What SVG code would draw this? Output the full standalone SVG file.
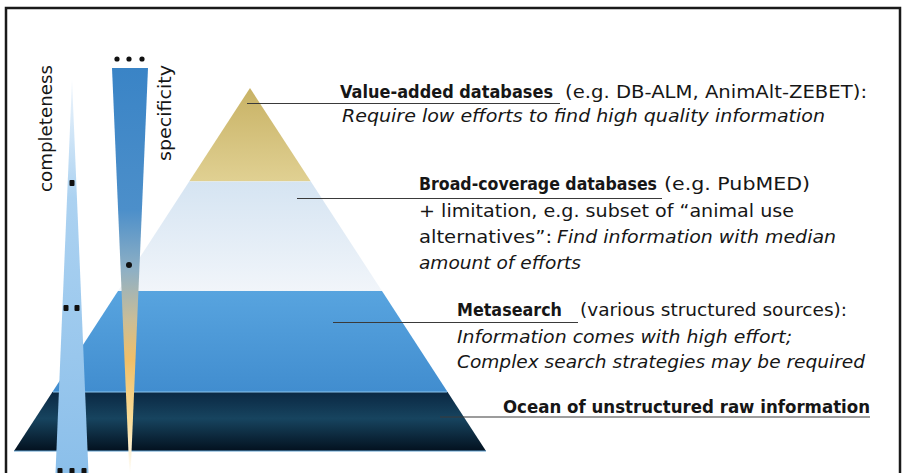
<svg xmlns="http://www.w3.org/2000/svg" width="907" height="473" viewBox="0 0 907 473">
<style>
  .t{font-family:"DejaVu Sans","Liberation Sans",sans-serif;font-size:17px;fill:#161616}
  .b{font-weight:bold;font-size:17px}
  .i{font-style:italic}
  .r{font-size:17px}
  .lead{stroke:#3a3a3a;stroke-width:1.2;fill:none}
  .dot{fill:#111}
</style>
<defs>
  <linearGradient id="gYel" x1="0" y1="88" x2="0" y2="181" gradientUnits="userSpaceOnUse">
    <stop offset="0" stop-color="#c8b265"/><stop offset="1" stop-color="#e0d092"/>
  </linearGradient>
  <linearGradient id="gLight" x1="0" y1="181" x2="0" y2="291" gradientUnits="userSpaceOnUse">
    <stop offset="0" stop-color="#d5e4f2"/><stop offset="1" stop-color="#f1f5fa"/>
  </linearGradient>
  <linearGradient id="gBlue" x1="0" y1="291" x2="0" y2="392" gradientUnits="userSpaceOnUse">
    <stop offset="0" stop-color="#58a4df"/><stop offset="1" stop-color="#418dcf"/>
  </linearGradient>
  <linearGradient id="gDark" x1="0" y1="392" x2="0" y2="451" gradientUnits="userSpaceOnUse">
    <stop offset="0" stop-color="#0a2843"/><stop offset="0.45" stop-color="#17445f"/><stop offset="1" stop-color="#03111f"/>
  </linearGradient>
  <linearGradient id="gComp" x1="0" y1="80" x2="0" y2="473" gradientUnits="userSpaceOnUse">
    <stop offset="0" stop-color="#eef5fc"/><stop offset="0.3" stop-color="#acd2f1"/><stop offset="1" stop-color="#8bbfea"/>
  </linearGradient>
  <linearGradient id="gSpec" x1="0" y1="68" x2="0" y2="473" gradientUnits="userSpaceOnUse">
    <stop offset="0" stop-color="#3a84c6"/><stop offset="0.35" stop-color="#4c8fca"/><stop offset="0.5" stop-color="#8fb0c4"/><stop offset="0.62" stop-color="#c9bd98"/><stop offset="0.72" stop-color="#f0bf68"/><stop offset="0.87" stop-color="#f8dc98"/><stop offset="1" stop-color="#ffffff"/>
  </linearGradient>
</defs>
<rect x="0" y="0" width="907" height="473" fill="#ffffff"/>
<rect x="6" y="8" width="894" height="480" fill="none" stroke="#1a1a1a" stroke-width="2.5"/>

<g id="layer-ocean">
  <polygon points="52.4,392 447.6,392 486,451 14,451" fill="url(#gDark)"/>
  <line x1="14" y1="451" x2="486" y2="451" stroke="#5a9ccc" stroke-width="1"/>
  <text class="t b" x="503" y="413" textLength="367" lengthAdjust="spacingAndGlyphs">Ocean of unstructured raw information</text>
</g>
<g id="layer-meta">
  <polygon points="118,291 382,291 447.6,392 52.4,392" fill="url(#gBlue)"/>
  <line x1="53" y1="392" x2="447" y2="392" stroke="#8cc4ec" stroke-width="1"/>
  <text class="t b" x="457" y="316" textLength="105" lengthAdjust="spacingAndGlyphs">Metasearch</text>
  <text class="t r" x="580" y="316" textLength="267" lengthAdjust="spacingAndGlyphs">(various structured sources):</text>
  <text class="t i r" x="457" y="343" textLength="335" lengthAdjust="spacingAndGlyphs">Information comes with high effort;</text>
  <text class="t i r" x="457" y="368" textLength="408" lengthAdjust="spacingAndGlyphs">Complex search strategies may be required</text>
</g>
<g id="layer-broad">
  <polygon points="189.5,181 310.5,181 382,291 118,291" fill="url(#gLight)"/>
  <line x1="190" y1="181" x2="310" y2="181" stroke="#f4f0dc" stroke-width="1"/>
  <text class="t b" x="419" y="190" textLength="238" lengthAdjust="spacingAndGlyphs">Broad-coverage databases</text>
  <text class="t r" x="664" y="190" textLength="146" lengthAdjust="spacingAndGlyphs">(e.g. PubMED)</text>
  <text class="t r" x="419" y="217" textLength="375" lengthAdjust="spacingAndGlyphs">+ limitation, e.g. subset of “animal use</text>
  <text class="t r" x="419" y="243" textLength="133" lengthAdjust="spacingAndGlyphs">alternatives”:</text>
  <text class="t i r" x="557" y="243" textLength="279" lengthAdjust="spacingAndGlyphs">Find information with median</text>
  <text class="t i r" x="419" y="269" textLength="162" lengthAdjust="spacingAndGlyphs">amount of efforts</text>
</g>
<g id="layer-value">
  <polygon points="250,88 310.5,181 189.5,181" fill="url(#gYel)"/>
  <text class="t b" x="340" y="98" textLength="213" lengthAdjust="spacingAndGlyphs">Value-added databases</text>
  <text class="t r" x="565" y="98" textLength="302" lengthAdjust="spacingAndGlyphs">(e.g. DB-ALM, AnimAlt-ZEBET):</text>
  <text class="t i r" x="342" y="122" textLength="483" lengthAdjust="spacingAndGlyphs">Require low efforts to find high quality information</text>
</g>

<g id="connectors">
  <line class="lead" x1="247" y1="103.5" x2="560" y2="103.5"/>
  <line class="lead" x1="297" y1="198.5" x2="662" y2="198.5"/>
  <line class="lead" x1="333" y1="322.5" x2="578" y2="322.5"/>
  <line class="lead" x1="440" y1="417" x2="870" y2="417"/>
</g>

<g id="completeness">
  <polygon points="72,80 88.5,473 55.5,473" fill="url(#gComp)"/>
  <rect class="dot" x="69.5" y="180" width="5" height="6" rx="1"/>
  <rect class="dot" x="63.5" y="305" width="5" height="6" rx="1"/>
  <rect class="dot" x="74.5" y="305" width="5" height="6" rx="1"/>
  <rect class="dot" x="57.5" y="468" width="5" height="6" rx="1"/>
  <rect class="dot" x="69.5" y="468" width="5" height="6" rx="1"/>
  <rect class="dot" x="81.5" y="468" width="5" height="6" rx="1"/>
  <text class="t r" transform="translate(52,192) rotate(-90)" x="0" y="0" textLength="127" lengthAdjust="spacingAndGlyphs">completeness</text>
</g>
<g id="specificity">
  <polygon points="112,68 148,68 130.5,476 129.5,476" fill="url(#gSpec)"/>
  <circle class="dot" cx="117" cy="59" r="2.6"/>
  <circle class="dot" cx="129" cy="59" r="2.6"/>
  <circle class="dot" cx="142" cy="59" r="2.6"/>
  <circle class="dot" cx="129" cy="265" r="3"/>
  <text class="t r" transform="translate(171,161) rotate(-90)" x="0" y="0" textLength="96" lengthAdjust="spacingAndGlyphs">specificity</text>
</g>
</svg>
